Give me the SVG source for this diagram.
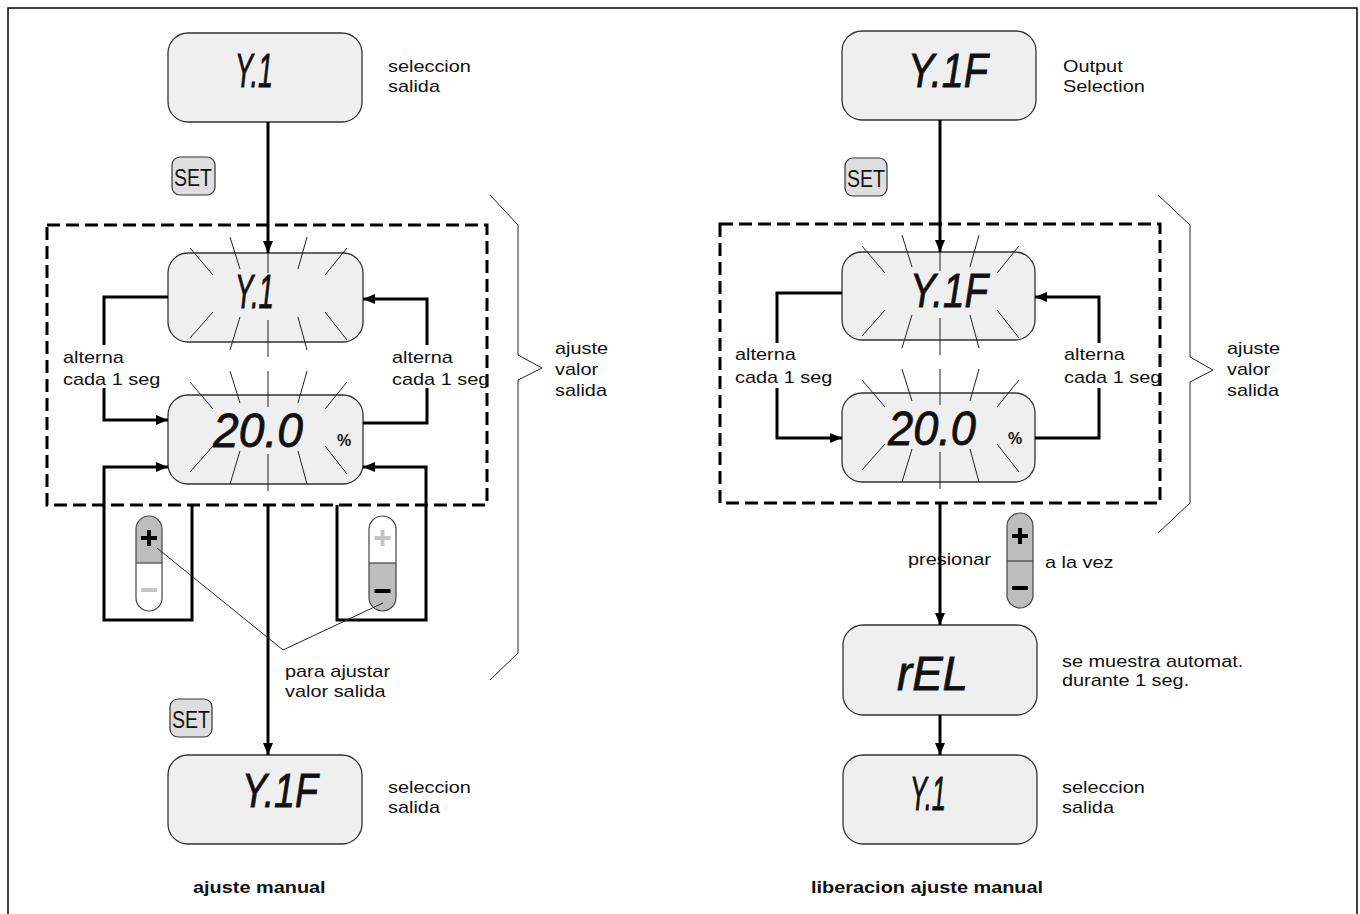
<svg xmlns="http://www.w3.org/2000/svg" width="1360" height="914" viewBox="0 0 1360 914">
<style>
.disp{fill:#efefef;stroke:#333;stroke-width:1.3}
.seg{font-family:"Liberation Sans",Arial,sans-serif;font-style:italic;font-size:49px;fill:#111;stroke:#111;stroke-width:0.8}
.t{font-family:"Liberation Sans",Arial,sans-serif;font-size:17px;fill:#111}
.b{font-family:"Liberation Sans",Arial,sans-serif;font-size:17px;font-weight:bold;fill:#111}
.pct{font-family:"Liberation Sans",Arial,sans-serif;font-size:16px;font-weight:bold;fill:#111}
.set{font-family:"Liberation Sans",Arial,sans-serif;font-size:23px;fill:#111}
.setbox{fill:#dedede;stroke:#333;stroke-width:1.2}
.thick{fill:none;stroke:#000;stroke-width:3}
.thin{fill:none;stroke:#222;stroke-width:1}
.ray{stroke:#222;stroke-width:1}
.dash{fill:none;stroke:#000;stroke-width:3;stroke-dasharray:13 6}
.pill{fill:none;stroke:#444;stroke-width:1.2}
.gray{fill:#bdbdbd}
.white{fill:#fff}
.blk{stroke:#000;stroke-width:4;fill:none}
.lgt{stroke:#c4c4c4;stroke-width:4;fill:none}
</style>
<defs>
<marker id="ah" markerUnits="userSpaceOnUse" markerWidth="12" markerHeight="10" refX="12" refY="5" orient="auto"><path d="M0,0 L12,5 L0,10 z" fill="#000"/></marker>
<g id="rays" class="ray">
<line x1="-78" y1="-45" x2="-55" y2="-18"/><line x1="-38" y1="-56" x2="-28" y2="-24"/><line x1="0" y1="-56" x2="0" y2="-20"/><line x1="39" y1="-56" x2="30" y2="-24"/><line x1="79" y1="-45" x2="57" y2="-18"/>
<line x1="-78" y1="45" x2="-55" y2="19"/><line x1="-38" y1="57" x2="-28" y2="24"/><line x1="0" y1="64" x2="0" y2="27"/><line x1="39" y1="57" x2="30" y2="24"/><line x1="79" y1="47" x2="57" y2="19"/>
</g>
</defs>
<rect x="0" y="0" width="1360" height="914" fill="#fff"/>
<path d="M8,914 V8 H1357 V914" fill="none" stroke="#000" stroke-width="1.5"/>

<!-- LEFT PANEL -->
<g id="l-top">
<rect class="disp" x="168" y="33" width="194" height="89" rx="20"/>
<text class="seg" x="235" y="87" textLength="38" lengthAdjust="spacingAndGlyphs">Y.1</text>
<text class="t" transform="translate(388 72) scale(1.17 1)"><tspan x="0" y="0">seleccion</tspan><tspan x="0" y="20">salida</tspan></text>
</g>
<g id="l-set1"><rect class="setbox" x="172" y="157" width="43" height="38" rx="8"/><text class="set" x="174" y="186" textLength="38" lengthAdjust="spacingAndGlyphs">SET</text></g>
<g id="l-box"><rect class="dash" x="47" y="225" width="440" height="280"/></g>
<g id="l-flash1">
<rect class="disp" x="168" y="253" width="195" height="89" rx="20"/>
<use href="#rays" x="268" y="293"/>
<text class="seg" x="235" y="308" textLength="39" lengthAdjust="spacingAndGlyphs">Y.1</text>
</g>
<g id="l-flash2">
<rect class="disp" x="168" y="395" width="195" height="89" rx="20"/>
<use href="#rays" x="268" y="427"/>
<text class="seg" x="213" y="447" textLength="90" lengthAdjust="spacingAndGlyphs">20.0</text>
<text class="pct" x="337" y="446">%</text>
</g>
<g id="l-alt-left"><text class="t" transform="translate(63 363) scale(1.17 1)"><tspan x="0" y="0">alterna</tspan><tspan x="0" y="22">cada 1 seg</tspan></text></g>
<g id="l-alt-right"><text class="t" transform="translate(392 363) scale(1.17 1)"><tspan x="0" y="0">alterna</tspan><tspan x="0" y="22">cada 1 seg</tspan></text></g>
<g id="l-brace"><path class="thin" d="M490,195 L518,225 V355 L542,368 L518,380 V653 L490,680"/>
<text class="t" transform="translate(555 354) scale(1.17 1)"><tspan x="0" y="0">ajuste</tspan><tspan x="0" y="21">valor</tspan><tspan x="0" y="42">salida</tspan></text></g>
<g id="l-plus">
<path class="gray" d="M136,563 V529 A13,13 0 0 1 162,529 V563 Z"/>
<path class="white" d="M136,563 V598 A13,13 0 0 0 162,598 V563 Z"/>
<rect class="pill" x="136" y="516" width="26" height="95" rx="13"/>
<line x1="136" y1="563" x2="162" y2="563" stroke="#444" stroke-width="1.2"/>
<path class="blk" d="M141,538 H157 M149,530 V546"/>
<path class="lgt" d="M141,590 H157"/>
</g>
<g id="l-minus">
<path class="white" d="M369,563 V529.5 A13.5,13.5 0 0 1 396,529.5 V563 Z"/>
<path class="gray" d="M369,563 V597.5 A13.5,13.5 0 0 0 396,597.5 V563 Z"/>
<rect class="pill" x="369" y="516" width="27" height="95" rx="13.5"/>
<line x1="369" y1="563" x2="396" y2="563" stroke="#444" stroke-width="1.2"/>
<path class="lgt" d="M374.5,538 H390.5 M382.5,530 V546"/>
<path class="blk" d="M374.5,591 H390.5"/>
</g>
<g id="l-note"><text class="t" transform="translate(285 677) scale(1.17 1)"><tspan x="0" y="0">para ajustar</tspan><tspan x="0" y="20">valor salida</tspan></text></g>
<g id="l-set2"><rect class="setbox" x="170" y="699" width="42" height="38" rx="8"/><text class="set" x="172" y="728" textLength="38" lengthAdjust="spacingAndGlyphs">SET</text></g>
<g id="l-bottom">
<rect class="disp" x="168" y="755" width="194" height="89" rx="20"/>
<text class="seg" x="242" y="807" textLength="76" lengthAdjust="spacingAndGlyphs">Y.1F</text>
<text class="t" transform="translate(388 793) scale(1.17 1)"><tspan x="0" y="0">seleccion</tspan><tspan x="0" y="20">salida</tspan></text>
</g>
<g id="l-title"><text class="b" transform="translate(193 893) scale(1.17 1)">ajuste manual</text></g>

<!-- RIGHT PANEL -->
<g id="r-top">
<rect class="disp" x="842" y="31" width="194" height="89" rx="20"/>
<text class="seg" x="908" y="87" textLength="80" lengthAdjust="spacingAndGlyphs">Y.1F</text>
<text class="t" transform="translate(1063 72) scale(1.17 1)"><tspan x="0" y="0">Output</tspan><tspan x="0" y="20">Selection</tspan></text>
</g>
<g id="r-set"><rect class="setbox" x="845" y="158" width="42" height="38" rx="8"/><text class="set" x="847" y="187" textLength="38" lengthAdjust="spacingAndGlyphs">SET</text></g>
<g id="r-box"><rect class="dash" x="720" y="224" width="440" height="279"/></g>
<g id="r-flash1">
<rect class="disp" x="842" y="252" width="193" height="88" rx="20"/>
<use href="#rays" x="940" y="291"/>
<text class="seg" x="910" y="307" textLength="78" lengthAdjust="spacingAndGlyphs">Y.1F</text>
</g>
<g id="r-flash2">
<rect class="disp" x="842" y="393" width="193" height="89" rx="20"/>
<use href="#rays" x="940" y="425"/>
<text class="seg" x="888" y="445" textLength="88" lengthAdjust="spacingAndGlyphs">20.0</text>
<text class="pct" x="1008" y="444">%</text>
</g>
<g id="r-alt-left"><text class="t" transform="translate(735 360) scale(1.17 1)"><tspan x="0" y="0">alterna</tspan><tspan x="0" y="23">cada 1 seg</tspan></text></g>
<g id="r-alt-right"><text class="t" transform="translate(1064 360) scale(1.17 1)"><tspan x="0" y="0">alterna</tspan><tspan x="0" y="23">cada 1 seg</tspan></text></g>
<g id="r-brace"><path class="thin" d="M1158,195 L1190,225 V357 L1213,370 L1190,382 V503 L1158,533"/>
<text class="t" transform="translate(1227 354) scale(1.17 1)"><tspan x="0" y="0">ajuste</tspan><tspan x="0" y="21">valor</tspan><tspan x="0" y="42">salida</tspan></text></g>
<g id="r-press">
<text class="t" transform="translate(908 565) scale(1.17 1)">presionar</text>
<path class="gray" d="M1007,561 V526 A13,13 0 0 1 1033,526 V595 A13,13 0 0 1 1007,595 Z"/>
<rect class="pill" x="1007" y="513" width="26" height="95" rx="13"/>
<line x1="1007" y1="561" x2="1033" y2="561" stroke="#444" stroke-width="1.2"/>
<path class="blk" d="M1012,536 H1028 M1020,528 V544"/>
<path class="blk" d="M1012,588 H1028"/>
<text class="t" transform="translate(1045 568) scale(1.17 1)">a la vez</text>
</g>
<g id="r-rel">
<rect class="disp" x="843" y="625" width="194" height="90" rx="20"/>
<text class="seg" x="897" y="690" textLength="71" lengthAdjust="spacingAndGlyphs">rEL</text>
<text class="t" transform="translate(1062 667) scale(1.17 1)"><tspan x="0" y="0">se muestra automat.</tspan><tspan x="0" y="19">durante 1 seg.</tspan></text>
</g>
<g id="r-bottom">
<rect class="disp" x="843" y="755" width="194" height="89" rx="20"/>
<text class="seg" x="910" y="810" textLength="36" lengthAdjust="spacingAndGlyphs">Y.1</text>
<text class="t" transform="translate(1062 793) scale(1.17 1)"><tspan x="0" y="0">seleccion</tspan><tspan x="0" y="20">salida</tspan></text>
</g>
<g id="r-title"><text class="b" transform="translate(811 893) scale(1.17 1)">liberacion ajuste manual</text></g>

<!-- CONNECTORS -->
<g id="connectors">
<path class="thick" marker-end="url(#ah)" d="M268,122 V253"/>
<path class="thick" marker-end="url(#ah)" d="M168,297 H104 V345 M104,388 V420 H168"/>
<path class="thick" marker-end="url(#ah)" d="M363,423 H427 V388 M427,345 V299 H363"/>
<path class="thick" marker-end="url(#ah)" d="M192,505 V620 H104 V467 H168"/>
<path class="thick" marker-end="url(#ah)" d="M337,505 V620 H426 V467 H363"/>
<path class="thick" marker-end="url(#ah)" d="M268,505 V755"/>
<path class="thin" d="M157,548 L283,650 L383,603"/>
<path class="thick" marker-end="url(#ah)" d="M940,120 V252"/>
<path class="thick" marker-end="url(#ah)" d="M842,293 H777 V343 M777,388 V438 H842"/>
<path class="thick" marker-end="url(#ah)" d="M1035,438 H1099 V388 M1099,343 V297 H1035"/>
<path class="thick" marker-end="url(#ah)" d="M940,503 V625"/>
<path class="thick" marker-end="url(#ah)" d="M940,715 V755"/>
</g>
</svg>
